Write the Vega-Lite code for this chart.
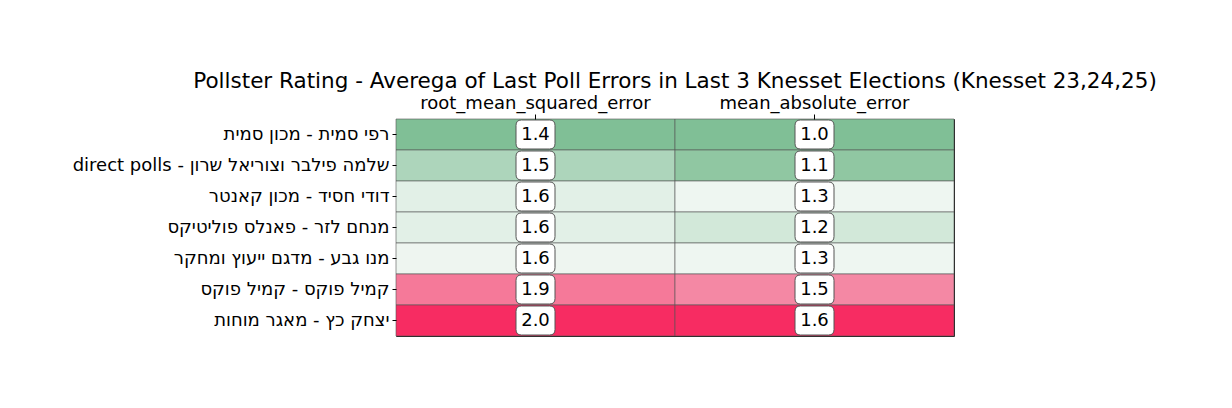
{
  "$schema": "https://vega.github.io/schema/vega-lite/v6.json",
  "width": 558,
  "height": 217,
  "autosize": "none",
  "padding": {"left": 396, "top": 119, "right": 278, "bottom": 72},
  "background": "white",
  "title": {
    "text": "Pollster Rating - Averega of Last Poll Errors in Last 3 Knesset Elections (Knesset 23,24,25)",
    "font": "DejaVu Sans",
    "fontSize": 21.5,
    "fontWeight": "normal",
    "color": "#000000",
    "anchor": "middle",
    "frame": "group",
    "limit": 1200,
    "offset": 2
  },
  "config": {
    "view": {"stroke": "#222222", "strokeWidth": 1},
    "font": "DejaVu Sans"
  },
  "data": {
    "values": [
      {"pollster": "רפי סמית - מכון סמית", "metric": "root_mean_squared_error", "value": 1.40},
      {"pollster": "direct polls - שלמה פילבר וצוריאל שרון", "metric": "root_mean_squared_error", "value": 1.50},
      {"pollster": "דודי חסיד - מכון קאנטר", "metric": "root_mean_squared_error", "value": 1.617},
      {"pollster": "מנחם לזר - פאנלס פוליטיקס", "metric": "root_mean_squared_error", "value": 1.617},
      {"pollster": "מנו גבע - מדגם ייעוץ ומחקר", "metric": "root_mean_squared_error", "value": 1.643},
      {"pollster": "קמיל פוקס - קמיל פוקס", "metric": "root_mean_squared_error", "value": 1.867},
      {"pollster": "יצחק כץ - מאגר מוחות", "metric": "root_mean_squared_error", "value": 2.00},
      {"pollster": "רפי סמית - מכון סמית", "metric": "mean_absolute_error", "value": 1.00},
      {"pollster": "direct polls - שלמה פילבר וצוריאל שרון", "metric": "mean_absolute_error", "value": 1.10},
      {"pollster": "דודי חסיד - מכון קאנטר", "metric": "mean_absolute_error", "value": 1.294},
      {"pollster": "מנחם לזר - פאנלס פוליטיקס", "metric": "mean_absolute_error", "value": 1.236},
      {"pollster": "מנו גבע - מדגם ייעוץ ומחקר", "metric": "mean_absolute_error", "value": 1.294},
      {"pollster": "קמיל פוקס - קמיל פוקס", "metric": "mean_absolute_error", "value": 1.464},
      {"pollster": "יצחק כץ - מאגר מוחות", "metric": "mean_absolute_error", "value": 1.60}
    ]
  },
  "encoding": {
    "x": {
      "field": "metric",
      "type": "nominal",
      "sort": ["root_mean_squared_error", "mean_absolute_error"],
      "scale": {"paddingInner": 0, "paddingOuter": 0},
      "axis": {
        "orient": "top",
        "title": null,
        "labelAngle": 0,
        "domain": false,
        "ticks": true,
        "tickSize": 5,
        "tickColor": "#000000",
        "labelPadding": 2,
        "labelFont": "DejaVu Sans",
        "labelFontSize": 18,
        "labelColor": "#000000",
        "labelLimit": 500
      }
    },
    "y": {
      "field": "pollster",
      "type": "nominal",
      "sort": null,
      "scale": {"paddingInner": 0, "paddingOuter": 0},
      "axis": {
        "title": null,
        "domain": false,
        "ticks": true,
        "tickSize": 4,
        "tickColor": "#000000",
        "labelPadding": 3,
        "labelFont": "DejaVu Sans",
        "labelFontSize": 18,
        "labelColor": "#000000",
        "labelLimit": 500
      }
    }
  },
  "layer": [
    {
      "transform": [{"filter": "datum.metric === 'root_mean_squared_error'"}],
      "mark": {"type": "rect", "stroke": "#555555", "strokeWidth": 0.6},
      "encoding": {
        "color": {
          "field": "value",
          "type": "quantitative",
          "scale": {"domain": [1.40, 1.65, 2.00], "range": ["#80bf96", "#f1f7f3", "#f72c62"], "interpolate": "rgb"},
          "legend": null
        }
      }
    },
    {
      "transform": [{"filter": "datum.metric === 'mean_absolute_error'"}],
      "mark": {"type": "rect", "stroke": "#555555", "strokeWidth": 0.6},
      "encoding": {
        "color": {
          "field": "value",
          "type": "quantitative",
          "scale": {"domain": [1.00, 1.10, 1.30, 1.60], "range": ["#80bf96", "#90c7a2", "#f1f7f3", "#f72c62"], "interpolate": "rgb"},
          "legend": null
        }
      }
    },
    {
      "mark": {
        "type": "point",
        "filled": true,
        "fill": "#ffffff",
        "stroke": "#555555",
        "strokeWidth": 1,
        "opacity": 1,
        "size": 1521,
        "shape": "M-0.72,-0.744L0.72,-0.744Q1,-0.744 1,-0.464L1,0.464Q1,0.744 0.72,0.744L-0.72,0.744Q-1,0.744 -1,0.464L-1,-0.464Q-1,-0.744 -0.72,-0.744Z"
      },
      "encoding": {}
    },
    {
      "mark": {
        "type": "text",
        "font": "DejaVu Sans",
        "fontSize": 18,
        "color": "#000000",
        "align": "center",
        "baseline": "middle"
      },
      "encoding": {
        "text": {"field": "value", "type": "quantitative", "format": ".1f"}
      }
    }
  ],
  "resolve": {"scale": {"color": "independent"}}
}
